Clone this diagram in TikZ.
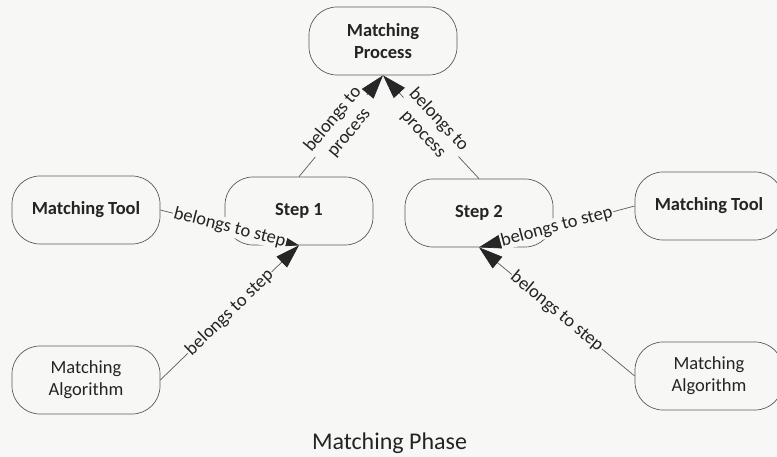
\documentclass[tikz,border=0pt]{standalone}
\usepackage{fontspec}
\setmainfont{Carlito}
\usetikzlibrary{arrows.meta}
\definecolor{paper}{HTML}{F7F7F5}
\definecolor{ink}{HTML}{242424}
\definecolor{edgegray}{HTML}{5A5A5A}
\begin{document}
\begin{tikzpicture}[x=1pt,y=-1pt,
  concept/.style={draw=edgegray, line width=0.7pt, rounded corners=28pt,
    minimum width=148pt, minimum height=68pt, align=center, text=ink,
    fill=paper, inner sep=2pt},
  major/.style={concept, font=\fontsize{18.5}{22}\selectfont\bfseries},
  minor/.style={concept, font=\fontsize{18.5}{22}\selectfont},
  link/.style={draw=edgegray, line width=0.7pt,
    -{Triangle[length=24pt,width=15pt,color=black!85]}},
  linklabel/.style={midway, sloped, fill=paper, inner sep=1pt, text=ink,
    font=\fontsize{18.5}{21}\selectfont, align=center}]
\fill[paper] (0,0) rectangle (777,457);
\useasboundingbox (0,0) rectangle (777,457);

% concepts
\node[major] (proc)  at (383,41)  {Matching\\Process};
\node[major] (step1) at (299,211) {Step 1};
\node[major] (step2) at (479,213) {Step 2};
\node[major] (toolL) at (86,210)  {Matching Tool};
\node[minor] (algL)  at (86,380)  {Matching\\Algorithm};
\node[major] (toolR) at (709,206) {Matching Tool};
\node[minor] (algR)  at (709,376) {Matching\\Algorithm};

% links
\draw[link] (step1.north) -- node[linklabel] {belongs to\\process} (proc.south);
\draw[link] (step2.north) -- node[linklabel] {belongs to\\process} (proc.south);
\draw[link] (toolL.east) -- node[linklabel] {belongs to step} (step1.south);
\draw[link] (algL.east)  -- node[linklabel] {belongs to step} (step1.south);
\draw[link] (toolR.west) -- node[linklabel] {belongs to step} (step2.south);
\draw[link] (algR.west)  -- node[linklabel] {belongs to step} (step2.south);

% caption
\node[anchor=base, text=ink, font=\fontsize{24}{28}\selectfont] (caption)
  at (389.5,449) {Matching Phase};
\end{tikzpicture}
\end{document}
